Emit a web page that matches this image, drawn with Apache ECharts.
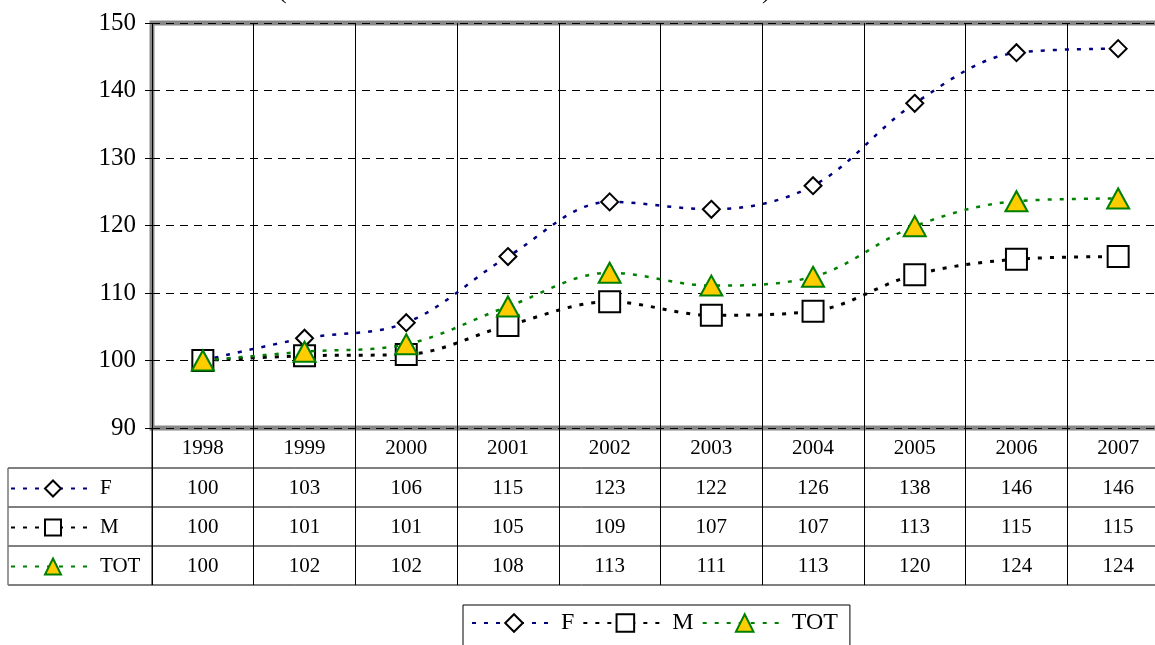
<!DOCTYPE html>
<html>
<head>
<meta charset="utf-8">
<script src="https://cdn.jsdelivr.net/npm/echarts@6/dist/echarts.min.js"></script>
<style>
html, body { margin: 0; padding: 0; background: #fff; }
#chart { width: 1155px; height: 645px; }
</style>
</head>
<body>
<div id="chart"></div>
<script>
// categories
var years = ['1998', '1999', '2000', '2001', '2002', '2003', '2004', '2005', '2006', '2007'];

// plotted values
var valF = [100, 103.3, 105.6, 115.4, 123.5, 122.4, 125.9, 138.1, 145.6, 146.2];
var valM = [100, 100.7, 100.9, 105.2, 108.7, 106.7, 107.3, 112.7, 115.0, 115.4];
var valTOT = [100, 101.3, 102.4, 108.0, 113.0, 111.1, 112.4, 119.9, 123.6, 124.0];

// values printed in the data table
var tableF = ['100', '103', '106', '115', '123', '122', '126', '138', '146', '146'];
var tableM = ['100', '101', '101', '105', '109', '107', '107', '113', '115', '115'];
var tableTOT = ['100', '102', '102', '108', '113', '111', '113', '120', '124', '124'];

var FONT = '"Liberation Serif", "DejaVu Serif", serif';

var chart = echarts.init(document.getElementById('chart'));

function rowAxis(offset, labels) {
    return {
        type: 'category',
        gridIndex: 0,
        position: 'bottom',
        offset: offset,
        data: years,
        axisLine: { show: false },
        axisTick: { show: false },
        splitLine: { show: false },
        axisLabel: {
            margin: 10,
            fontFamily: FONT,
            fontSize: 21,
            color: '#000',
            formatter: function (v, i) { return labels[i]; }
        }
    };
}

function rowLegend(name, top) {
    return {
        data: [name],
        left: 10,
        top: top,
        orient: 'horizontal',
        itemWidth: 84,
        itemHeight: 20,
        padding: 0,
        textStyle: { fontFamily: FONT, fontSize: 21, color: '#000' },
        selectedMode: false
    };
}

var hLine = function (y, x1) {
    return { type: 'line', shape: { x1: x1, y1: y, x2: 1155, y2: y }, style: { stroke: '#000', lineWidth: 1 }, silent: true };
};

var option = {
    backgroundColor: '#fff',
    animation: false,
    grid: {
        left: 152,
        top: 23,
        width: 1017,
        height: 405,
        outerBoundsMode: 'none',
        show: true,
        backgroundColor: '#fff',
        borderColor: '#888',
        borderWidth: 5
    },
    xAxis: [
        {
            type: 'category',
            data: years,
            boundaryGap: true,
            axisLine: { show: false },
            axisTick: { show: true, inside: false, length: 157, lineStyle: { color: '#000', width: 1 } },
            splitLine: { show: true, lineStyle: { color: '#000', width: 1 } },
            axisLabel: { margin: 10, fontFamily: FONT, fontSize: 21, color: '#000' }
        },
        rowAxis(40, tableF),
        rowAxis(79, tableM),
        rowAxis(118, tableTOT)
    ],
    yAxis: {
        type: 'value',
        min: 90,
        max: 150,
        interval: 10,
        axisLine: { show: false },
        axisTick: { show: true, length: 7, lineStyle: { color: '#000' } },
        splitLine: { show: true, lineStyle: { color: '#000', width: 1, type: [8, 6] } },
        axisLabel: { margin: 16, fontFamily: FONT, fontSize: 25, color: '#000' }
    },
    legend: [
        rowLegend('F', 478),
        rowLegend('M', 517),
        rowLegend('TOT', 556),
        {
            data: ['F', 'M', 'TOT'],
            left: 463,
            top: 605,
            itemWidth: 84,
            itemHeight: 22,
            itemGap: 8,
            padding: [6, 12, 14, 8],
            borderColor: '#000',
            borderWidth: 1,
            textStyle: { fontFamily: FONT, fontSize: 24, color: '#000' },
            selectedMode: false
        }
    ],
    graphic: [
        hLine(468, 8),
        hLine(507, 8),
        hLine(546, 8),
        hLine(585, 8),
        { type: 'line', shape: { x1: 8, y1: 468, x2: 8, y2: 585 }, style: { stroke: '#777', lineWidth: 1.5 }, silent: true },
        { type: 'line', shape: { x1: 152, y1: 428, x2: 152, y2: 585 }, style: { stroke: '#000', lineWidth: 1 }, silent: true },
        { type: 'text', left: 278, top: -22, style: { text: '(', font: '26px ' + FONT, fill: '#000' }, silent: true },
        { type: 'text', left: 762, top: -22, style: { text: ')', font: '26px ' + FONT, fill: '#000' }, silent: true }
    ],
    series: [
        {
            name: 'F',
            type: 'line',
            data: valF,
            smooth: 0.35,
            symbol: 'diamond',
            symbolSize: 17,
            lineStyle: { color: '#000080', width: 2.5, type: [4, 8] },
            itemStyle: { color: '#fff', borderColor: '#000', borderWidth: 2 },
            z: 3
        },
        {
            name: 'M',
            type: 'line',
            data: valM,
            smooth: 0.35,
            symbol: 'rect',
            symbolSize: 21,
            lineStyle: { color: '#000', width: 3, type: [4, 8] },
            itemStyle: { color: '#fff', borderColor: '#000', borderWidth: 2 },
            z: 4
        },
        {
            name: 'TOT',
            type: 'line',
            data: valTOT,
            smooth: 0.35,
            symbol: 'triangle',
            symbolSize: [22, 20],
            lineStyle: { color: '#008000', width: 2.5, type: [4, 8] },
            itemStyle: { color: '#FFCC00', borderColor: '#008000', borderWidth: 2 },
            z: 5
        }
    ]
};

chart.setOption(option);
</script>
</body>
</html>
